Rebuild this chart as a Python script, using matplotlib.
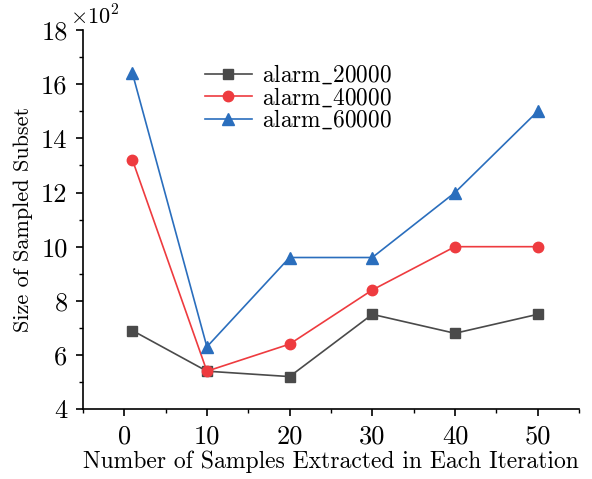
import matplotlib
matplotlib.use("Agg")
import matplotlib.pyplot as plt
from matplotlib.ticker import MultipleLocator

plt.rcParams['font.family'] = ['cmr10', 'DejaVu Serif']
plt.rcParams['mathtext.fontset'] = 'cm'
plt.rcParams['axes.unicode_minus'] = False

# samples extracted per iteration
x = [1, 10, 20, 30, 40, 50]
# subset size, in units of 10^2
alarm_20000 = [6.9, 5.4, 5.2, 7.5, 6.8, 7.5]
alarm_40000 = [13.2, 5.4, 6.4, 8.4, 10.0, 10.0]
alarm_60000 = [16.4, 6.3, 9.6, 9.6, 12.0, 15.0]

fig = plt.figure(figsize=(5.92, 4.79), dpi=100)
ax = fig.add_axes([0.140, 0.146, 0.838, 0.791])

ax.plot(x, alarm_20000, color="#4a4a4a", marker="s", markersize=7, lw=1.2, label=r"$\mathrm{alarm\_20000}$")
ax.plot(x, alarm_40000, color="#ee3b3f", marker="o", markersize=7.5, lw=1.2, label=r"$\mathrm{alarm\_40000}$")
ax.plot(x, alarm_60000, color="#2a6ebd", marker="^", markersize=8, lw=1.2, label=r"$\mathrm{alarm\_60000}$")

ax.set_xlim(-5, 55)
ax.set_ylim(4, 18)
ax.xaxis.set_major_locator(MultipleLocator(10))
ax.xaxis.set_minor_locator(MultipleLocator(5))
ax.yaxis.set_major_locator(MultipleLocator(2))
ax.yaxis.set_minor_locator(MultipleLocator(1))

ax.spines['top'].set_visible(False)
ax.spines['right'].set_visible(False)
ax.spines['left'].set_linewidth(1.2)
ax.spines['bottom'].set_linewidth(1.2)
ax.tick_params(which='major', direction='out', length=5, width=1.2, labelsize=19, pad=6)
ax.tick_params(which='minor', direction='out', length=3, width=1.0)

ax.set_xlabel("Number of Samples Extracted in Each Iteration", fontsize=17, labelpad=2)
ax.set_ylabel("Size of Sampled Subset", fontsize=16, labelpad=6)
ax.text(-0.025, 1.005, r"$\times10^2$", transform=ax.transAxes, fontsize=16, ha='left', va='bottom')

ax.legend(loc='upper left', bbox_to_anchor=(0.218, 0.95), frameon=False, fontsize=16.8,
          handlelength=2.0, handletextpad=0.45, labelspacing=-0.05, borderaxespad=0.2)

plt.savefig("out.png", dpi=100)
